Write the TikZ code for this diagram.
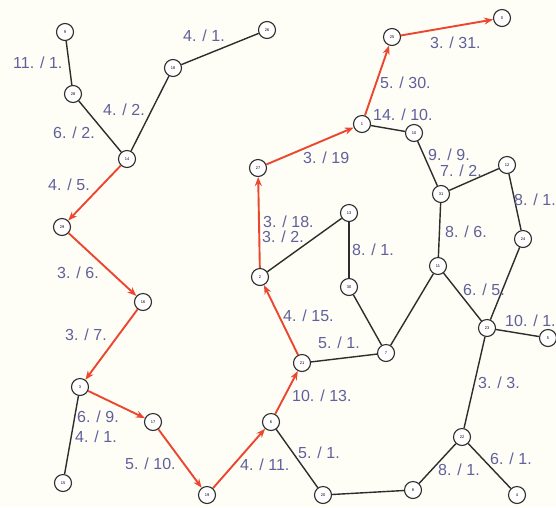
\documentclass[tikz,border=0pt]{standalone}
\usepackage{fontspec}
\setmainfont{Liberation Sans}
\usetikzlibrary{arrows.meta}
\definecolor{paper}{RGB}{254,254,246}
\definecolor{wtext}{RGB}{96,96,156}
\definecolor{pathred}{RGB}{236,70,48}
\definecolor{edgegray}{RGB}{45,45,45}
\tikzset{
  vertex/.style={circle, draw=edgegray, line width=1.1pt, fill=white,
    minimum size=17pt, inner sep=0pt, font=\fontsize{4}{4}\selectfont},
  link/.style={draw=edgegray, line width=1.4pt},
  route/.style={draw=pathred, line width=1.9pt, -{Stealth[length=9pt,width=7pt]}},
  wlabel/.style={anchor=west, inner sep=0pt, text=wtext, font=\fontsize{16}{16}\selectfont}
}
\begin{document}
\begin{tikzpicture}[x=1pt, y=-1pt]
    \fill[paper] (0,0) rectangle (556,507);
    \useasboundingbox (0,0) rectangle (556,507);
    % vertices, placed at pixel positions of the sketch
    \foreach \n/\x/\y in {0/502/18, 1/362/124, 2/260/277, 3/80/387, 4/517/495,
        5/548/338, 6/271/422, 7/386/353, 8/413/490, 9/65/32, 10/414/133,
        11/438/266, 12/507/165, 13/349/213, 14/127/159, 15/63/483, 16/143/302,
        17/153/422, 18/173/68, 19/207/495, 20/323/495, 21/302/363, 22/462/437,
        23/487/328, 24/523/239, 25/392/37, 26/267/30, 27/258/168, 28/73/94,
        29/62/227, 30/349/287, 31/441/194}
        \node[vertex] (n\n) at (\x,\y) {\n};
    % plain edges
    \begin{scope}[on background layer/.try]
    \foreach \a/\b in {9/28, 28/14, 14/18, 18/26, 3/15, 6/20, 20/8, 21/7,
        2/13, 13/30, 30/7, 7/11, 1/10, 10/31, 31/12, 31/11, 12/24, 11/23,
        24/23, 23/5, 23/22, 22/8, 22/4}
        \draw[link] (n\a) -- (n\b);
    \end{scope}
    % the chosen route
    \foreach \a/\b in {14/29, 29/16, 16/3, 3/17, 17/19, 19/6, 6/21, 21/2,
        2/27, 27/1, 1/25, 25/0}
        \draw[route] (n\a) -- (n\b);
    % edge weights
    \node[wlabel] (w1) at (13,63) {11. / 1.};
    \node[wlabel] (w2) at (103,110) {4. / 2.};
    \node[wlabel] (w3) at (53,133) {6. / 2.};
    \node[wlabel] (w4) at (183,36) {4. / 1.};
    \node[wlabel] (w5) at (48,185) {4. / 5.};
    \node[wlabel] (w6) at (57,273) {3. / 6.};
    \node[wlabel] (w7) at (65,335) {3. / 7.};
    \node[wlabel] (w8) at (77,417) {6. / 9.};
    \node[wlabel] (w9) at (75,437) {4. / 1.};
    \node[wlabel] (w10) at (125,464) {5. / 10.};
    \node[wlabel] (w11) at (240,465) {4. / 11.};
    \node[wlabel] (w12) at (292,396) {10. / 13.};
    \node[wlabel] (w13) at (298,453) {5. / 1.};
    \node[wlabel] (w14) at (283,316) {4. / 15.};
    \node[wlabel] (w15) at (318,343) {5. / 1.};
    \node[wlabel] (w16) at (263,222) {3. / 18.};
    \node[wlabel] (w17) at (262,237) {3. / 2.};
    \node[wlabel] (w18) at (352,250) {8. / 1.};
    \node[wlabel] (w19) at (303,158) {3. / 19};
    \node[wlabel] (w20) at (380,83) {5. / 30.};
    \node[wlabel] (w21) at (430,43) {3. / 31.};
    \node[wlabel] (w22) at (373,115) {14. / 10.};
    \node[wlabel] (w23) at (428,155) {9. / 9.};
    \node[wlabel] (w24) at (440,171) {7. / 2.};
    \node[wlabel] (w25) at (445,232) {8. / 6.};
    \node[wlabel] (w26) at (514,200) {8. / 1.};
    \node[wlabel] (w27) at (463,290) {6. / 5.};
    \node[wlabel] (w28) at (505,321) {10. / 1.};
    \node[wlabel] (w29) at (478,383) {3. / 3.};
    \node[wlabel] (w30) at (438,470) {8. / 1.};
    \node[wlabel] (w31) at (490,459) {6. / 1.};
\end{tikzpicture}
\end{document}
